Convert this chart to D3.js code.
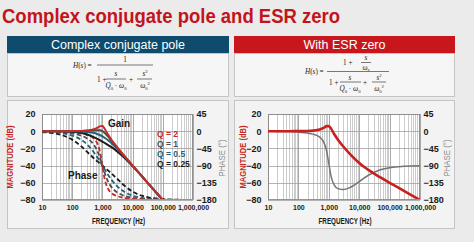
<!DOCTYPE html>
<html>
<head>
<meta charset="utf-8">
<script src="https://cdnjs.cloudflare.com/ajax/libs/d3/7.8.5/d3.min.js"></script>
<style>
  html, body { margin: 0; padding: 0; background: #ebebeb; }
  svg { display: block; font-family: Arial, "Liberation Sans", sans-serif; }
</style>
</head>
<body>
<div id="chart"></div>
<script>
// frequency points (Hz) shared by all curves
const freqHz = [10, 20, 50, 100, 200, 300, 500, 700, 850, 1000, 1200, 1500, 2000, 3000, 5000, 10000, 20000, 50000, 100000, 200000, 500000, 1000000];

// left chart - gain in dB (null = below the plot)
const gainQ2   = [0, 0, 0, 0.1, 0.3, 0.7, 2.0, 4.2, 5.9, 6.0, 2.6, -3.3, -10, -18.2, -27.6, -40, -52, -68, -80, null, null, null];
const gainQ1   = [0, 0, 0, 0, 0.2, 0.4, 0.9, 1.2, 1.0, 0, -2.1, -5.8, -11.1, -18.6, -27.8, -40, -52, -68, -80, null, null, null];
const gainQ05  = [0, 0, 0, -0.1, -0.3, -0.8, -1.9, -3.5, -4.7, -6.0, -7.8, -10.2, -14, -20, -28.3, -40.1, -52.1, -68, -80, null, null, null];
const gainQ025 = [0, 0, -0.2, -0.6, -1.9, -3.6, -6.6, -9.1, -10.7, -12.0, -13.7, -15.8, -18.6, -23.2, -29.9, -40.6, -52.2, -68.1, -80.1, null, null, null];

// left chart - phase in degrees
const phaseQ2   = [-0.3, -0.6, -1.4, -2.9, -5.9, -9.4, -18.4, -34.5, -56.9, -90, -126.3, -149, -161.6, -169.4, -174, -177.1, -178.6, -179.4, -179.7, -179.9, -180, -180];
const phaseQ1   = [-0.6, -1.1, -2.9, -5.8, -11.8, -18.2, -33.7, -53.9, -71.9, -90, -110.1, -129.8, -146.3, -159.4, -168.2, -174.2, -177.1, -178.9, -179.4, -179.7, -179.9, -179.9];
const phaseQ05  = [-1.1, -2.3, -5.7, -11.4, -22.6, -33.4, -53.1, -70, -80.7, -90, -100.4, -112.6, -126.9, -143.1, -157.4, -168.6, -174.3, -177.7, -178.9, -179.4, -179.8, -179.9];
const phaseQ025 = [-2.3, -4.6, -11.3, -22, -39.8, -52.8, -69.4, -79.7, -85.3, -90, -95.2, -101.8, -110.6, -123.7, -140.2, -158, -168.7, -175.4, -177.7, -178.9, -179.5, -179.8];

// right chart - with ESR zero
const gainEsr  = [0, 0, 0, 0.1, 0.3, 0.7, 2.0, 4.2, 5.9, 6.1, 2.7, -3.2, -9.8, -17.8, -26.6, -37, -45, -53.8, -60, -66, -74, -80];
const phaseEsr = [-0.3, -0.6, -1.1, -2.3, -4.8, -7.7, -15.5, -30.5, -52, -84.3, -119.5, -140.5, -150.3, -152.7, -147.4, -132.1, -115.2, -100.7, -95.4, -92.8, -91.1, -90.6];

// legend
const qLabels = ["Q = 2", "Q = 1", "Q = 0.5", "Q = 0.25"];
const qColors = ["#c42a26", "#4d4d4d", "#23637a", "#1c1c1c"];

// ticks
const freqTicks = [10, 100, 1000, 10000, 100000, 1000000];
const magTicks = [20, 0, -20, -40, -60, -80];
const phaseTicks = [45, 0, -45, -90, -135, -180];

const W = 474, H = 242;

const svg = d3.select("#chart").append("svg")
    .attr("width", W)
    .attr("height", H);

svg.append("rect").attr("width", W).attr("height", H).attr("fill", "#ebebeb");

// title
svg.append("text")
    .attr("x", 2).attr("y", 22.5)
    .attr("font-size", 20).attr("font-weight", "bold")
    .attr("fill", "#c3141b")
    .attr("textLength", 338).attr("lengthAdjust", "spacingAndGlyphs")
    .text("Complex conjugate pole and ESR zero");

/* * * * * * * * * * * * * *
*     panels + headers     *
* * * * * * * * * * * * * */
function drawPanel(x0, x1, header, headerColor) {
    // formula box
    svg.append("rect")
        .attr("x", x0 + 0.5).attr("y", 53.5).attr("width", x1 - x0 - 1).attr("height", 43)
        .attr("fill", "#f6f6f6").attr("stroke", "#c4c4c4");
    svg.append("rect")
        .attr("x", x0).attr("y", 36).attr("width", x1 - x0).attr("height", 17)
        .attr("fill", headerColor);
    svg.append("text")
        .attr("x", (x0 + x1) / 2).attr("y", 49)
        .attr("text-anchor", "middle")
        .attr("font-size", 12.5).attr("fill", "#fff")
        .text(header);
    // chart box
    svg.append("rect")
        .attr("x", x0 + 0.5).attr("y", 100.5).attr("width", x1 - x0 - 1).attr("height", 128)
        .attr("fill", "#f3f3f3").attr("stroke", "#c4c4c4");
}

drawPanel(7, 229, "Complex conjugate pole", "#0f4b6c");
drawPanel(234, 455, "With ESR zero", "#c8171c");

/* * * * * * * * * * * * * *
*         formulas         *
* * * * * * * * * * * * * */
const fs = 7.2;
function mtext(x, y, anchor, parts) {
    let t = svg.append("text")
        .attr("x", x).attr("y", y)
        .attr("text-anchor", anchor)
        .attr("font-family", "'Liberation Serif', 'Times New Roman', serif")
        .attr("font-size", fs).attr("fill", "#222");
    parts.forEach(p => {
        let s = t.append("tspan").text(p[0]);
        if (p[1] === "i") s.attr("font-style", "italic");
        if (p[1] === "sub") s.attr("font-size", fs * 0.65).attr("dy", 1.8);
        if (p[1] === "sup") s.attr("font-size", fs * 0.65).attr("dy", -3);
        if (p[2] !== undefined) s.attr("dy", p[2]);
    });
    return t;
}
function hline(x0, x1, y) {
    svg.append("line").attr("x1", x0).attr("x2", x1).attr("y1", y).attr("y2", y)
        .attr("stroke", "#222").attr("stroke-width", 0.6);
}
const qw = [["Q", "i"], ["0", "sub"], [" · ", "n", -1.8], ["ω", "i"], ["0", "sub"]];
const s2 = [["s", "i"], ["2", "sup"]];
const w2 = [["ω", "i"], ["0", "sub"], ["2", "sup", -4.8]];

// left formula
mtext(73, 67.5, "start", [["H", "i"], ["(", "n"], ["s", "i"], [") =", "n"]]);
hline(97, 153, 65);
mtext(125, 62, "middle", [["1", "n"]]);
mtext(97, 82, "start", [["1 +", "n"]]);
mtext(116, 76, "middle", [["s", "i"]]);
hline(106, 126, 79);
mtext(116, 88, "middle", qw);
mtext(131, 82, "middle", [["+", "n"]]);
mtext(145, 76, "middle", s2);
hline(137, 152, 79);
mtext(145, 88, "middle", w2);

// right formula
mtext(305, 74, "start", [["H", "i"], ["(", "n"], ["s", "i"], [") =", "n"]]);
hline(327, 389, 71.5);
mtext(343, 65, "start", [["1 +", "n"]]);
mtext(366, 60, "middle", [["s", "i"]]);
hline(361, 371, 62.5);
mtext(366, 69.5, "middle", [["ω", "i"], ["z", "sub"]]);
mtext(329, 85, "start", [["1 +", "n"]]);
mtext(350, 79.5, "middle", [["s", "i"]]);
hline(340, 361, 82);
mtext(350, 91, "middle", qw);
mtext(365, 85, "middle", [["+", "n"]]);
mtext(379, 79.5, "middle", s2);
hline(372, 386, 82);
mtext(379, 91, "middle", w2);

/* * * * * * * * * * * * * *
*          BodeVis         *
* * * * * * * * * * * * * */
class BodeVis {

    constructor(id, cfg) {
        this.id = id;
        this.cfg = cfg;
        this.initVis();
    }

    initVis() {
        let vis = this;
        let c = vis.cfg;

        vis.x = d3.scaleLog().domain([10, 1000000]).range([c.left, c.right]);
        vis.yMag = d3.scaleLinear().domain([-80, 20]).range([c.bottom, c.top]);
        vis.yPh = d3.scaleLinear().domain([-180, 45]).range([c.bottom, c.top]);

        vis.g = svg.append("g");

        vis.g.append("rect")
            .attr("x", c.left).attr("y", c.top)
            .attr("width", c.right - c.left).attr("height", c.bottom - c.top)
            .attr("fill", "#fff");

        // vertical grid (log minor + decades)
        vis.g.selectAll(".vgrid")
            .data(vis.x.ticks())
            .enter().append("line")
            .attr("class", "vgrid")
            .attr("x1", d => Math.round(vis.x(d)) + 0.5)
            .attr("x2", d => Math.round(vis.x(d)) + 0.5)
            .attr("y1", c.top).attr("y2", c.bottom)
            .attr("stroke", d => freqTicks.includes(d) ? "#a0a0a0" : "#c6c6c6")
            .attr("stroke-width", 0.9);

        // horizontal grid
        vis.g.selectAll(".hgrid")
            .data(magTicks)
            .enter().append("line")
            .attr("class", "hgrid")
            .attr("x1", c.left).attr("x2", c.right)
            .attr("y1", d => Math.round(vis.yMag(d)) + 0.5)
            .attr("y2", d => Math.round(vis.yMag(d)) + 0.5)
            .attr("stroke", "#a0a0a0").attr("stroke-width", 0.8);

        vis.g.append("rect")
            .attr("x", c.left + 0.5).attr("y", c.top + 0.5)
            .attr("width", c.right - c.left - 1).attr("height", c.bottom - c.top - 1)
            .attr("fill", "none").attr("stroke", "#8a8a8a").attr("stroke-width", 0.9);

        // axes
        let left = vis.g.append("g")
            .attr("transform", `translate(${c.left},0)`)
            .call(d3.axisLeft(vis.yMag).tickValues(magTicks).tickSize(0).tickPadding(6.5));
        let right = vis.g.append("g")
            .attr("transform", `translate(${c.right},0)`)
            .call(d3.axisRight(vis.yPh).tickValues(phaseTicks).tickSize(0).tickPadding(3.5));
        let bottom = vis.g.append("g")
            .attr("transform", `translate(0,${c.bottom})`)
            .call(d3.axisBottom(vis.x).tickValues(freqTicks).tickFormat(d3.format(",")).tickSize(0).tickPadding(5.5));

        [left, right, bottom].forEach(a => {
            a.select(".domain").remove();
            a.attr("font-family", null).attr("font-size", null);
            a.selectAll("text")
                .attr("font-weight", "bold")
                .attr("font-size", a === bottom ? 7 : 9)
                .attr("fill", "#1a1a1a");
        });

        // axis titles
        vis.g.append("text")
            .attr("transform", `translate(${c.magX},157) rotate(-90)`)
            .attr("text-anchor", "middle")
            .attr("font-size", 9).attr("font-weight", "bold").attr("fill", "#c42a26")
            .attr("textLength", 63).attr("lengthAdjust", "spacingAndGlyphs")
            .text("MAGNITUDE (dB)");
        vis.g.append("text")
            .attr("transform", `translate(${c.phX},158) rotate(-90)`)
            .attr("text-anchor", "middle")
            .attr("font-size", 9).attr("fill", "#8c8c8c")
            .attr("textLength", 37).attr("lengthAdjust", "spacingAndGlyphs")
            .text("PHASE (°)");
        vis.g.append("text")
            .attr("x", (c.left + c.right) / 2 + 1).attr("y", 224)
            .attr("text-anchor", "middle")
            .attr("font-size", 9).attr("font-weight", "bold").attr("fill", "#1a1a1a")
            .attr("textLength", 53).attr("lengthAdjust", "spacingAndGlyphs")
            .text("FREQUENCY (Hz)");

        // clip for curves
        svg.append("clipPath").attr("id", "clip-" + vis.id)
            .append("rect")
            .attr("x", c.left).attr("y", c.top - 2)
            .attr("width", c.right - c.left).attr("height", c.bottom - c.top + 1);

        vis.curves = vis.g.append("g").attr("clip-path", `url(#clip-${vis.id})`);

        vis.magLine = d3.line()
            .defined(d => d[1] !== null)
            .x(d => vis.x(d[0]))
            .y(d => vis.yMag(d[1]))
            .curve(d3.curveMonotoneX);
        vis.phLine = d3.line()
            .x(d => vis.x(d[0]))
            .y(d => vis.yPh(d[1]))
            .curve(d3.curveMonotoneX);

        vis.updateVis();
    }

    updateVis() {
        let vis = this;

        vis.cfg.series.forEach(s => {
            let pts = freqHz.map((f, i) => [f, s.values[i]]);
            vis.curves.append("path")
                .datum(pts)
                .attr("fill", "none")
                .attr("stroke", s.color)
                .attr("stroke-width", s.width)
                .attr("stroke-dasharray", s.dash || null)
                .attr("stroke-linejoin", "round")
                .attr("d", s.kind === "mag" ? vis.magLine : vis.phLine);
        });
    }
}

let leftSeries = [];
[phaseQ025, phaseQ05, phaseQ1, phaseQ2].forEach((v, i) => {
    leftSeries.push({ kind: "ph", values: v, color: qColors[3 - i], width: 1.8, dash: "4.5,2.5" });
});
[gainQ025, gainQ05, gainQ1, gainQ2].forEach((v, i) => {
    leftSeries.push({ kind: "mag", values: v, color: qColors[3 - i], width: 2 });
});

let leftChart = new BodeVis("left", {
    left: 42, right: 193, top: 114, bottom: 200,
    magX: 13, phX: 225,
    series: leftSeries
});

let rightChart = new BodeVis("right", {
    left: 268, right: 420, top: 114, bottom: 200,
    magX: 246, phX: 450,
    series: [
        { kind: "ph", values: phaseEsr, color: "#757575", width: 1.5 },
        { kind: "mag", values: gainEsr, color: "#c8201e", width: 2.6 }
    ]
});

// labels inside left chart
svg.append("text").attr("x", 108).attr("y", 127)
    .attr("font-size", 10).attr("font-weight", "bold").attr("fill", "#1a1a1a")
    .text("Gain");
svg.append("text").attr("x", 68).attr("y", 178.5)
    .attr("font-size", 10).attr("font-weight", "bold").attr("fill", "#1a1a1a")
    .text("Phase");

svg.selectAll(".qlabel")
    .data(qLabels)
    .enter().append("text")
    .attr("class", "qlabel")
    .attr("x", 157)
    .attr("y", (d, i) => 137 + i * 10)
    .attr("font-size", 8.5).attr("font-weight", "bold")
    .attr("fill", (d, i) => qColors[i])
    .text(d => d);
</script>
</body>
</html>
